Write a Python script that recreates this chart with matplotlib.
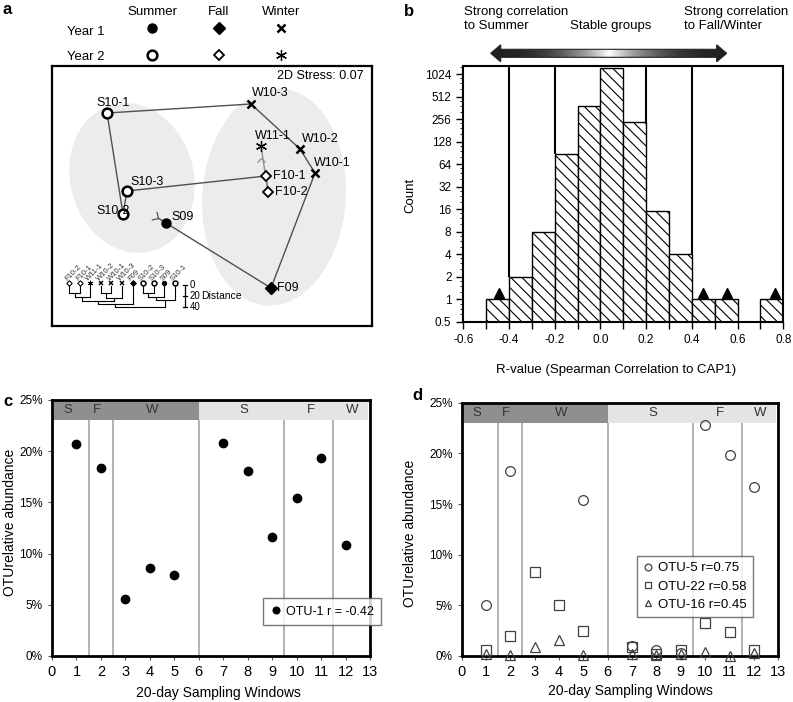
import matplotlib.pyplot as plt
import numpy as np
from matplotlib.patches import Ellipse, Polygon
from matplotlib.path import Path
from matplotlib.markers import MarkerStyle
from matplotlib.transforms import Affine2D
from matplotlib.ticker import FixedLocator, NullFormatter

plt.rcParams['font.family'] = ['Liberation Sans', 'DejaVu Sans']
plt.rcParams['hatch.linewidth'] = 0.8

# ---------------- panel a: NMDS ordination ----------------
site_names = ["S09", "F09", "W10-1", "W10-2", "W10-3", "S10-1", "S10-2", "S10-3", "F10-1", "F10-2", "W11-1"]
nmds_x = [1.14, 2.19, 2.63, 2.48, 1.99, 0.55, 0.71, 0.75, 2.14, 2.16, 2.09]
nmds_y = [0.79, 0.14, 1.29, 1.53, 1.98, 1.89, 0.88, 1.11, 1.26, 1.10, 1.56]
site_season = ["Summer", "Fall", "Winter", "Winter", "Winter", "Summer", "Summer", "Summer", "Fall", "Fall", "Winter"]
site_year = [1, 1, 1, 1, 1, 2, 2, 2, 2, 2, 2]
stress = 0.07

# group ellipses (centre x, centre y, width, height, angle)
group_ellipses = [(0.80, 1.24, 1.22, 1.50, 15), (2.22, 1.05, 1.42, 2.16, -4)]

# dendrogram (leaf order, merges as (left, right, distance))
tree_leaves = ["F10-2", "F10-1", "W11-1", "W10-2", "W10-1", "W10-3", "F09", "S10-2", "S10-3", "S09", "S10-1"]
tree_merges = [(0, 1, 13), (3, 4, 13), (7, 8, 13), (11, 2, 20), (12, 5, 22),
               (13, 9, 20), (14, 15, 28), (17, 6, 33), (16, 10, 26), (18, 19, 38)]
tree_ticks = [0, 20, 40]

# ---------------- panel b: histogram of R-values ----------------
r_bins = [-0.5, -0.4, -0.3, -0.2, -0.1, 0.0, 0.1, 0.2, 0.3, 0.4, 0.5, 0.6, 0.7]
r_counts = [1, 2, 8, 87, 385, 1250, 235, 15, 4, 1, 1, 0, 1]
outlier_r = [-0.445, 0.45, 0.555, 0.765]
divider_r = [-0.4, -0.2, 0.2, 0.4]
count_ticks = [0.5, 1, 2, 4, 8, 16, 32, 64, 128, 256, 512, 1024]

# ---------------- panels c, d: time series ----------------
windows = [1, 2, 3, 4, 5, 7, 8, 9, 10, 11, 12]
otu1 = [20.7, 18.4, 5.6, 8.6, 7.9, 20.8, 18.1, 11.6, 15.4, 19.3, 10.8]
otu5 = [5.0, 18.3, np.nan, np.nan, 15.4, 1.0, 0.6, 0.3, 22.8, 19.8, 16.7]
otu22 = [0.55, 2.0, 8.3, 5.0, 2.5, 0.9, 0.15, 0.6, 3.3, 2.4, 0.6]
otu16 = [0.2, 0.1, 0.85, 1.6, 0.1, 0.2, 0.1, 0.2, 0.4, 0.0, 0.3]
season_bounds = [1.5, 2.5, 6, 9.5, 11.5]
band_labels = ["S", "F", "W", "S", "F", "W"]
band_label_x = [0.65, 1.83, 4.1, 7.85, 10.6, 12.27]

marker_style = {
    ("Summer", 1): dict(marker='o', mfc='black', ms=6.5, mew=1),
    ("Fall", 1): dict(marker='D', mfc='black', ms=6, mew=1),
    ("Winter", 1): dict(marker='x', ms=6, mew=1.8),
    ("Summer", 2): dict(marker='o', mfc='white', ms=7, mew=1.8),
    ("Fall", 2): dict(marker='D', mfc='white', ms=5.5, mew=1.3),
    ("Winter", 2): dict(marker=(6, 2, 0), ms=8, mew=0.9),
}
label_offset = {
    "S09": (5, 6, 'left'), "F09": (6, 0, 'left'), "S10-1": (6, 10, 'center'),
    "S10-2": (-10, 3, 'center'), "S10-3": (3, 9, 'left'), "F10-1": (7, 0, 'left'),
    "F10-2": (7, 0, 'left'), "W10-1": (-1, 10, 'left'), "W10-2": (2, 10, 'left'),
    "W10-3": (1, 11, 'left'), "W11-1": (-6, 10, 'left'),
}

fig = plt.figure(figsize=(7.93, 7.02), dpi=100)

# ======== panel a ========
ax_a = fig.add_axes([52 / 793, 1 - 326 / 702, 320 / 793, 260 / 702])
ax_a.set_xlim(0, 3.2)
ax_a.set_ylim(-0.24, 2.36)
ax_a.set_xticks([])
ax_a.set_yticks([])
for s in ax_a.spines.values():
    s.set_linewidth(1.6)

for cx, cy, w, h, ang in group_ellipses:
    ax_a.add_patch(Ellipse((cx, cy), w, h, angle=ang, color='#ececec', zorder=0))

# trajectory through time
ax_a.plot(nmds_x[:-1], nmds_y[:-1], color='#505050', lw=1, zorder=1)
ax_a.plot(nmds_x[-2:], nmds_y[-2:], color='#909090', lw=1, zorder=1)
chev = Path([(-1, -1), (0, 0), (1, -1)], [Path.MOVETO, Path.LINETO, Path.LINETO])
ax_a.plot(nmds_x[-1], (nmds_y[-1] + nmds_y[-3]) / 2 + 0.03, marker=chev, ms=6,
          mfc='none', mec='#909090', mew=0.9)
# tail of the trajectory (start)
dx = nmds_x[0] - nmds_x[1]
dy = nmds_y[0] - nmds_y[1]
nrm = np.hypot(dx, dy)
tx, ty = nmds_x[0] + 0.09 * dx / nrm, nmds_y[0] + 0.09 * dy / nrm
ax_a.plot([nmds_x[0], tx], [nmds_y[0], ty], color='#505050', lw=1)
ang = np.degrees(np.arctan2(dy, dx)) - 90
tail = Path([(-1, 1), (0, 0), (1, 1)], [Path.MOVETO, Path.LINETO, Path.LINETO])
ax_a.plot(tx, ty, marker=MarkerStyle(tail, transform=Affine2D().rotate_deg(ang)),
          ms=7, mfc='none', mec='#505050', mew=0.9)

for i, name in enumerate(site_names):
    st = dict(marker_style[(site_season[i], site_year[i])])
    ax_a.plot(nmds_x[i], nmds_y[i], ls='none', mec='black', color='black', zorder=3, **st)
    ox, oy, ha = label_offset[name]
    ax_a.annotate(name, (nmds_x[i], nmds_y[i]), xytext=(ox, oy), textcoords='offset pixels',
                  ha=ha, va='center', fontsize=9, zorder=4)

ax_a.text(0.975, 0.985, "2D Stress: %.2f" % stress, transform=ax_a.transAxes,
          ha='right', va='top', fontsize=9)

# dendrogram
leaf_x0, leaf_dx = 0.173, 0.1054
mark_y, tree_y0, tree_k = 0.187, 0.16, 0.0055
pos = [leaf_x0 + i * leaf_dx for i in range(len(tree_leaves))]
hgt = [0.0] * len(tree_leaves)
lookup = {n: i for i, n in enumerate(site_names)}
for i, name in enumerate(tree_leaves):
    j = lookup[name]
    st = dict(marker_style[(site_season[j], site_year[j])])
    st['ms'] = st['ms'] * 0.5
    st['mew'] = st['mew'] * 0.6
    ax_a.plot(pos[i], mark_y, ls='none', mec='black', color='black', **st)
    ax_a.text(pos[i] - 0.03, mark_y + 0.03, name, rotation=45, rotation_mode='anchor',
              ha='left', va='center', fontsize=5.5, color='#333333')
for a, b, d in tree_merges:
    yd = tree_y0 - d * tree_k
    for c in (a, b):
        ax_a.plot([pos[c], pos[c]], [tree_y0 - hgt[c] * tree_k, yd], color='black', lw=0.8)
    ax_a.plot([pos[a], pos[b]], [yd, yd], color='black', lw=0.8)
    pos.append((pos[a] + pos[b]) / 2)
    hgt.append(d)
sb_x = 1.33
ax_a.plot([sb_x, sb_x], [tree_y0 + 0.01 - tree_ticks[0] * tree_k, tree_y0 + 0.01 - tree_ticks[-1] * tree_k],
          color='black', lw=0.9)
for t in tree_ticks:
    yy = tree_y0 + 0.01 - t * tree_k
    ax_a.plot([sb_x - 0.02, sb_x + 0.02], [yy, yy], color='black', lw=0.9)
    ax_a.text(sb_x + 0.05, yy, str(t), fontsize=7, va='center', ha='left')
ax_a.text(sb_x + 0.16, tree_y0 + 0.01 - 20 * tree_k, "Distance", fontsize=7.5, va='center', ha='left')

# ======== panel b ========
ax_b = fig.add_axes([463.3 / 793, 1 - 321.7 / 702, 320 / 793, 256 / 702])
ax_b.set_yscale('log', base=2)
top = 2 ** 10.37
for x, c in zip(r_bins, r_counts):
    if c > 0:
        ax_b.bar(x, c - 0.5, bottom=0.5, width=0.1, align='edge', facecolor='white',
                 edgecolor='black', hatch='\\\\\\', lw=1, zorder=2)
for x in divider_r:
    k = r_bins.index(round(x, 1))
    ymin = max(r_counts[k - 1], r_counts[k])
    ax_b.vlines(x, ymin, top, color='black', lw=1.5, zorder=3)
ax_b.plot(outlier_r, [1.22] * len(outlier_r), '^', color='black', ms=7, zorder=4)
ax_b.set_xlim(-0.6, 0.8)
ax_b.set_ylim(0.5, top)
ax_b.set_yticks(count_ticks)
ax_b.set_yticklabels([('%g' % v) for v in count_ticks])
ax_b.yaxis.set_minor_locator(FixedLocator([b * s for b in count_ticks for s in (1.25, 1.5, 1.75)]))
ax_b.yaxis.set_minor_formatter(NullFormatter())
ax_b.set_xticks([-0.6, -0.4, -0.2, 0.0, 0.2, 0.4, 0.6, 0.8])
ax_b.set_xticklabels(['%.1f' % v for v in [-0.6, -0.4, -0.2, 0.0, 0.2, 0.4, 0.6, 0.8]])
ax_b.xaxis.set_minor_locator(FixedLocator([-0.5, -0.3, -0.1, 0.1, 0.3, 0.5, 0.7]))
ax_b.tick_params(axis='both', which='major', labelsize=8.5, length=5, width=1, direction='out')
ax_b.tick_params(axis='x', which='minor', length=5, width=1)
ax_b.tick_params(axis='y', which='minor', length=2, width=0.6)
for s in ax_b.spines.values():
    s.set_linewidth(1.5)


# ======== panels c, d ========
def season_axes(ax):
    ax.set_xlim(0, 13)
    ax.set_ylim(0, 25)
    ax.fill_between([0, 6], 23, 25, color='#8f8f8f', lw=0, zorder=1)
    ax.fill_between([6, 12.9], 23, 25, color='#e4e4e4', lw=0, zorder=1)
    for b in season_bounds:
        ax.vlines(b, 0, 23, color='#a6a6a6', lw=1.2, zorder=1)
    for t, x in zip(band_labels, band_label_x):
        ax.text(x, 24, t, ha='center', va='center', fontsize=9.5, color='#333333', zorder=2)
    ax.set_xticks(range(0, 14))
    ax.set_yticks([0, 5, 10, 15, 20, 25])
    ax.set_yticklabels(['%d%%' % v for v in [0, 5, 10, 15, 20, 25]])
    ax.tick_params(axis='y', labelsize=8.5, length=3, color='#555555')
    ax.tick_params(axis='x', labelsize=10.5, length=3, color='#555555')
    for s in ax.spines.values():
        s.set_linewidth(2)


ax_c = fig.add_axes([52 / 793, 1 - 656 / 702, 318 / 793, 256 / 702])
season_axes(ax_c)
ax_c.plot(windows, otu1, 'o', color='black', ms=6, label='OTU-1 r = -0.42', zorder=4)
leg = ax_c.legend(loc='upper left', bbox_to_anchor=(0.645, 0.25), frameon=True, fancybox=False,
                  fontsize=9, handlelength=0.8, handletextpad=0.4, borderpad=0.6, markerscale=0.8)
leg.get_frame().set_edgecolor('#555555')
leg.get_frame().set_linewidth(1)

ax_d = fig.add_axes([461.5 / 793, 1 - 656 / 702, 316.8 / 793, 253.3 / 702])
season_axes(ax_d)
open_kw = dict(ls='none', mfc='none', mec='#404040', mew=0.9, clip_on=False, zorder=4)
ax_d.plot(windows, otu5, marker='o', ms=7, label='OTU-5 r=0.75', **open_kw)
ax_d.plot(windows, otu22, marker='s', ms=7, label='OTU-22 r=0.58', **open_kw)
ax_d.plot(windows, otu16, marker='^', ms=6.5, label='OTU-16 r=0.45', **open_kw)
leg = ax_d.legend(loc='upper left', bbox_to_anchor=(0.532, 0.42), frameon=True, fancybox=False,
                  fontsize=9.5, handlelength=0.8, handletextpad=0.4, borderpad=0.45,
                  labelspacing=0.45, markerscale=0.7)
leg.get_frame().set_edgecolor('#555555')
leg.get_frame().set_linewidth(1)

# ======== overlay: header legend, arrow, labels ========
ov = fig.add_axes([0, 0, 1, 1])
ov.set_axis_off()
ov.patch.set_visible(False)

for txt, x in zip(["Summer", "Fall", "Winter"], [152, 219, 281]):
    ov.text(x, 12, txt, ha='center', va='center', fontsize=9.5)
ov.text(67, 32, "Year 1", ha='left', va='center', fontsize=9.5)
ov.text(67, 57, "Year 2", ha='left', va='center', fontsize=9.5)
for yr, yy in ((1, 28), (2, 55)):
    for seas, x in zip(["Summer", "Fall", "Winter"], [152, 219, 281]):
        ov.plot(x, yy, ls='none', mec='black', color='black', **marker_style[(seas, yr)])

# gradient double arrow above panel b
x0, x1, yc, sh, hh, hl = 490.7, 726.7, 53.3, 4.0, 8.5, 10.0
verts = [(x0, yc), (x0 + hl, yc - hh), (x0 + hl, yc - sh), (x1 - hl, yc - sh), (x1 - hl, yc - hh),
         (x1, yc), (x1 - hl, yc + hh), (x1 - hl, yc + sh), (x0 + hl, yc + sh), (x0 + hl, yc + hh)]
arrow = Polygon(verts, closed=True, fill=False, edgecolor='#222222', lw=0.8, zorder=3)
ov.add_patch(arrow)
t = np.linspace(0, 1, 400)
v = 1 - np.abs(2 * t - 1)
shade = 0.13 + 0.87 * v ** 2.5
im = ov.imshow(shade[np.newaxis, :], cmap='gray', vmin=0, vmax=1, aspect='auto',
               extent=(x0, x1, yc + hh, yc - hh), zorder=2)
im.set_clip_path(arrow)

ov.text(464, 19, "Strong correlation\nto Summer", ha='left', va='center', fontsize=9.5, linespacing=1.2)
ov.text(570, 26, "Stable groups", ha='left', va='center', fontsize=9.5)
ov.text(684, 19, "Strong correlation\nto Fall/Winter", ha='left', va='center', fontsize=9.5, linespacing=1.2)

ov.text(410, 195, "Count", rotation=90, ha='center', va='center', fontsize=9.5)
ov.text(616, 370, "R-value (Spearman Correlation to CAP1)", ha='center', va='center', fontsize=9.5)
ov.text(10, 522, "OTUrelative abundance", rotation=90, ha='center', va='center', fontsize=10)
ov.text(218, 693, "20-day Sampling Windows", ha='center', va='center', fontsize=10)
ov.text(410, 533, "OTUrelative abundance", rotation=90, ha='center', va='center', fontsize=10)
ov.text(630, 691, "20-day Sampling Windows", ha='center', va='center', fontsize=10)

for lab, x, y in (("a", 7.5, 10), ("b", 409, 11), ("c", 8, 401), ("d", 417, 395)):
    ov.text(x, y, lab, ha='center', va='center', fontsize=12, fontweight='bold')

ov.set_xlim(0, 793)
ov.set_ylim(702, 0)

fig.savefig("out.png", dpi=100)
